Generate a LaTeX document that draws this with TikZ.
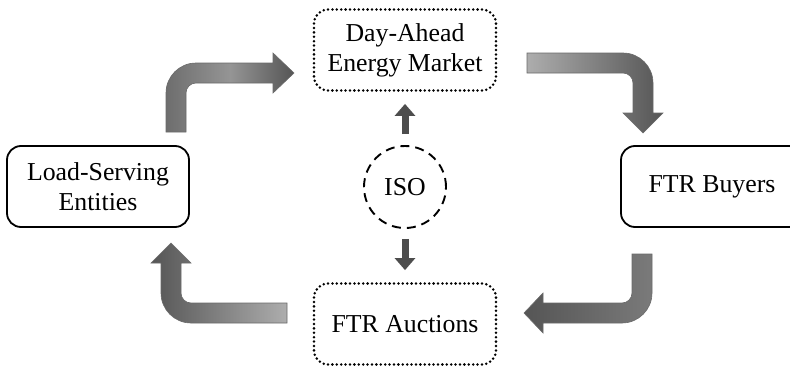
\documentclass[tikz,border=0pt]{standalone}
\usepackage{fontspec}
\setmainfont{Liberation Serif}
\usetikzlibrary{arrows.meta}
\definecolor{adark}{HTML}{555555}
\definecolor{amid}{HTML}{7A7A7A}
\definecolor{alight}{HTML}{ADADAD}
\definecolor{aedge}{HTML}{6A6A6A}
\definecolor{smallarr}{HTML}{4D4D4D}
\begin{document}
\begin{tikzpicture}[x=1pt,y=-1pt,
  solidbox/.style={draw, line width=1.8pt, rounded corners=14pt, minimum width=182pt, minimum height=81pt,
    align=center, inner sep=0pt, font=\fontsize{25.8}{30}\selectfont},
  dotbox/.style={solidbox, line width=2.8pt, dash pattern=on 0pt off 4.4pt, line cap=round},
  isocircle/.style={draw, circle, line width=1.9pt, dash pattern=on 9pt off 6pt, minimum size=82pt,
    inner sep=0pt, font=\fontsize{25.8}{30}\selectfont},
  bigarrow/.style={draw=aedge, line width=0.6pt},
  smallarrow/.style={draw=smallarr, line width=7pt, -{Triangle[width=20pt,length=12pt]}}
]
\useasboundingbox (0,0) rectangle (790,367);

\node[dotbox] (da) at (405,50) {Day-Ahead\\Energy Market};
\node[dotbox] (auc) at (405,324) {FTR Auctions};
\node[solidbox] (lse) at (98,186.5) {Load-Serving\\Entities};
\node[solidbox] (ftr) at (712,186.5) {FTR Buyers};
\node[isocircle] (iso) at (405,187) {ISO};

\draw[smallarrow, shorten <=11pt, shorten >=12pt] (iso.north) -- (da.south);
\draw[smallarrow, shorten <=10pt, shorten >=12pt] (iso.south) -- (auc.north);

% LSE -> Day-Ahead
\path[bigarrow, left color=amid!90!black, right color=adark, middle color=amid!80!white]
  (166,132) -- (166,93) .. controls (166,76.43) and (179.43,63) .. (196,63) -- (273,63) -- (273,53)
  -- (294,73) -- (273,93) -- (273,83) -- (196,83) .. controls (190.48,83) and (186,87.52) .. (186,93)
  -- (186,132) -- cycle;

% Day-Ahead -> FTR Buyers
\path[bigarrow, left color=alight, right color=adark]
  (527,53) -- (623,53) .. controls (639.57,53) and (653,66.43) .. (653,83) -- (653,113) -- (663,113)
  -- (643,133) -- (623,113) -- (633,113) -- (633,83) .. controls (633,77.48) and (628.52,73) .. (623,73)
  -- (527,73) -- cycle;

% FTR Buyers -> FTR Auctions
\path[bigarrow, right color=amid, left color=adark]
  (632,254) -- (652,254) -- (652,293) .. controls (652,309.57) and (638.57,323) .. (622,323) -- (543,323)
  -- (543,333) -- (524,313) -- (543,293) -- (543,303) -- (622,303) .. controls (627.52,303) and (632,298.52) .. (632,293)
  -- cycle;

% FTR Auctions -> LSE
\path[bigarrow, right color=alight, left color=adark]
  (287,303) -- (191,303) .. controls (185.48,303) and (181,298.52) .. (181,293) -- (181,263) -- (191,263)
  -- (171,243) -- (151,263) -- (161,263) -- (161,293) .. controls (161,309.57) and (174.43,323) .. (191,323)
  -- (287,323) -- cycle;
\end{tikzpicture}
\end{document}
